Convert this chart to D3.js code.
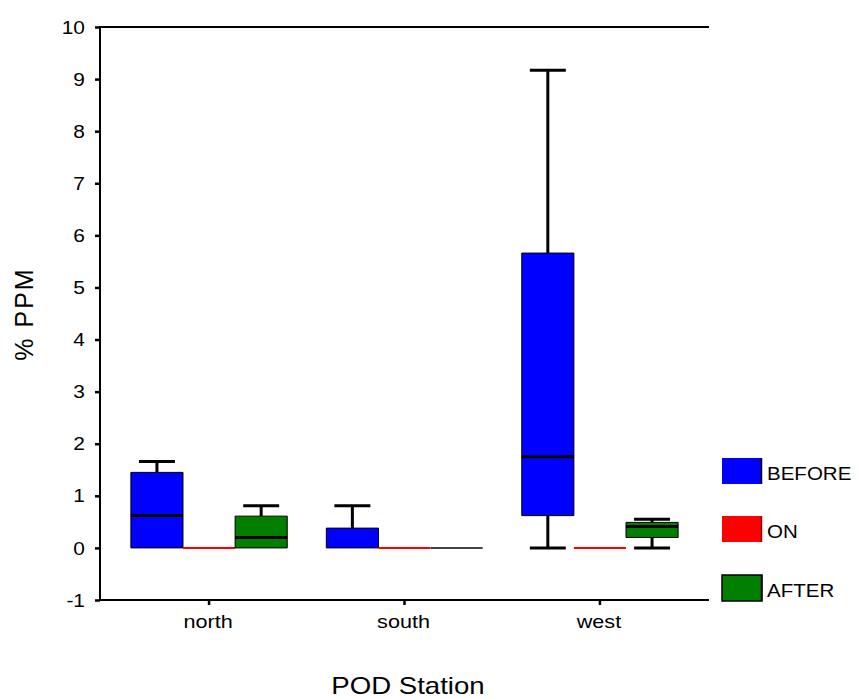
<!DOCTYPE html>
<html><head><meta charset="utf-8">
<script src="https://cdn.jsdelivr.net/npm/d3@7"></script>
<style>body{margin:0;background:#fff}svg{display:block;font-family:"Liberation Sans",Arial,sans-serif}</style>
</head><body><svg id="c" width="858" height="699"></svg>
<script>
const categories = ["north", "south", "west"];
const series = ["BEFORE", "ON", "AFTER"];
const colors = ["#0000ff", "#ff0000", "#007f00"];
const yTicks = [-1,0,1,2,3,4,5,6,7,8,9,10];
// per series, per category
const mins    = [[0,0,0],[0,0,0],[0,0,0]];
const q1s     = [[0,0,0.62],[0,0,0],[0,0,0.2]];
const medians = [[0.62,0,1.75],[0,0,0],[0.2,0,0.41]];
const q3s     = [[1.45,0.38,5.66],[0,0,0],[0.61,0,0.49]];
const maxs    = [[1.66,0.81,9.17],[0,0,0],[0.81,0,0.55]];

const svg = d3.select("#c");
const mLeft = 100, mRight = 709, mTop = 27, mBottom = 600;
const y = d3.scaleLinear().domain([-1,10]).range([mBottom, mTop]);
const x = d3.scaleBand().domain(categories).range([mLeft, mRight]).paddingOuter(0.058).paddingInner(0);
const sub = d3.scaleBand().domain(series).range([0, x.bandwidth()*0.8]);
const off = x.bandwidth()*0.1;

// axes
const yAxis = svg.append("g").attr("transform",`translate(${mLeft},0)`)
  .call(d3.axisLeft(y).tickValues(yTicks).tickSize(5).tickPadding(10).tickFormat(d => String(d)));
yAxis.select(".domain").remove();
yAxis.selectAll(".tick line").attr("stroke","#000").attr("stroke-width",2.5);
yAxis.selectAll(".tick text").attr("font-size",19).attr("fill","#000")
  .attr("font-family","Liberation Sans, Arial, sans-serif")
  .attr("x",0).attr("transform","translate(-15,0) scale(1.1,1)");

const xAxis = svg.append("g").attr("transform",`translate(0,${mBottom})`)
  .call(d3.axisBottom(x).tickSize(5).tickPadding(8));
xAxis.select(".domain").remove();
xAxis.selectAll(".tick line").attr("stroke","#000").attr("stroke-width",2.5);
xAxis.selectAll(".tick text").attr("font-size",18).attr("fill","#000")
  .attr("font-family","Liberation Sans, Arial, sans-serif")
  .attr("y",0).attr("dy",0).attr("transform","translate(-1,28) scale(1.2,1)");

svg.append("line").attr("x1",mLeft).attr("x2",mLeft).attr("y1",mTop).attr("y2",mBottom).attr("stroke","#000").attr("stroke-width",2);
svg.append("line").attr("x1",mLeft-1).attr("x2",mRight).attr("y1",mBottom).attr("y2",mBottom).attr("stroke","#000").attr("stroke-width",2);
svg.append("line").attr("x1",mLeft-1).attr("x2",mRight).attr("y1",mTop).attr("y2",mTop).attr("stroke","#000").attr("stroke-width",2);

// boxes
series.forEach((s, si) => {
  categories.forEach((c, ci) => {
    const x0 = x(c) + off + sub(s), w = sub.bandwidth(), xm = x0 + w/2;
    const mn = mins[si][ci], a = q1s[si][ci], md = medians[si][ci], b = q3s[si][ci], mx = maxs[si][ci];
    const g = svg.append("g");
    const capW = w*0.69;
    if (mx > b) {
      g.append("line").attr("x1",xm).attr("x2",xm).attr("y1",y(b)).attr("y2",y(mx)).attr("stroke","#000").attr("stroke-width",3);
      g.append("line").attr("x1",xm-capW/2).attr("x2",xm+capW/2).attr("y1",y(mx)).attr("y2",y(mx)).attr("stroke","#000").attr("stroke-width",3);
    }
    if (mn < a) {
      g.append("line").attr("x1",xm).attr("x2",xm).attr("y1",y(a)).attr("y2",y(mn)).attr("stroke","#000").attr("stroke-width",3);
      g.append("line").attr("x1",xm-capW/2).attr("x2",xm+capW/2).attr("y1",y(mn)).attr("y2",y(mn)).attr("stroke","#000").attr("stroke-width",3);
    }
    const collapsed = a === b;
    g.append("path")
      .attr("d",`M${x0},${y(a)}H${x0+w}V${y(b)}H${x0}Z`)
      .attr("fill",colors[si])
      .attr("stroke", si===1 ? colors[si] : (collapsed ? "#444" : "#000"))
      .attr("stroke-width", collapsed ? 2 : 1);
    if (md > a && md < b) {
      g.append("line").attr("x1",x0).attr("x2",x0+w).attr("y1",y(md)).attr("y2",y(md)).attr("stroke","#000").attr("stroke-width",3);
    }
  });
});

// legend
const legY = [458, 516, 575];
series.forEach((s, si) => {
  const ly = legY[si];
  svg.append("rect").attr("x",722).attr("y",ly).attr("width",40).attr("height",26)
    .attr("fill",colors[si])
    .attr("stroke", si===2 ? "#000" : "none").attr("stroke-width",1.5);
  svg.append("line").attr("x1",761.5).attr("x2",761.5).attr("y1",ly).attr("y2",ly+26)
    .attr("stroke", si===1 ? "#900" : "#000").attr("stroke-width",1.5);
  svg.append("text").attr("transform",`translate(767,${ly+22}) scale(1.08,1)`).attr("font-size",19).text(s);
});

// titles
svg.append("text").attr("transform","translate(33,314) rotate(-90)").attr("text-anchor","middle")
  .attr("font-size",25).attr("letter-spacing",2).text("% PPM");
svg.append("text").attr("transform","translate(408,694) scale(1.2,1)").attr("text-anchor","middle")
  .attr("font-size",23).text("POD Station");
</script></body></html>
